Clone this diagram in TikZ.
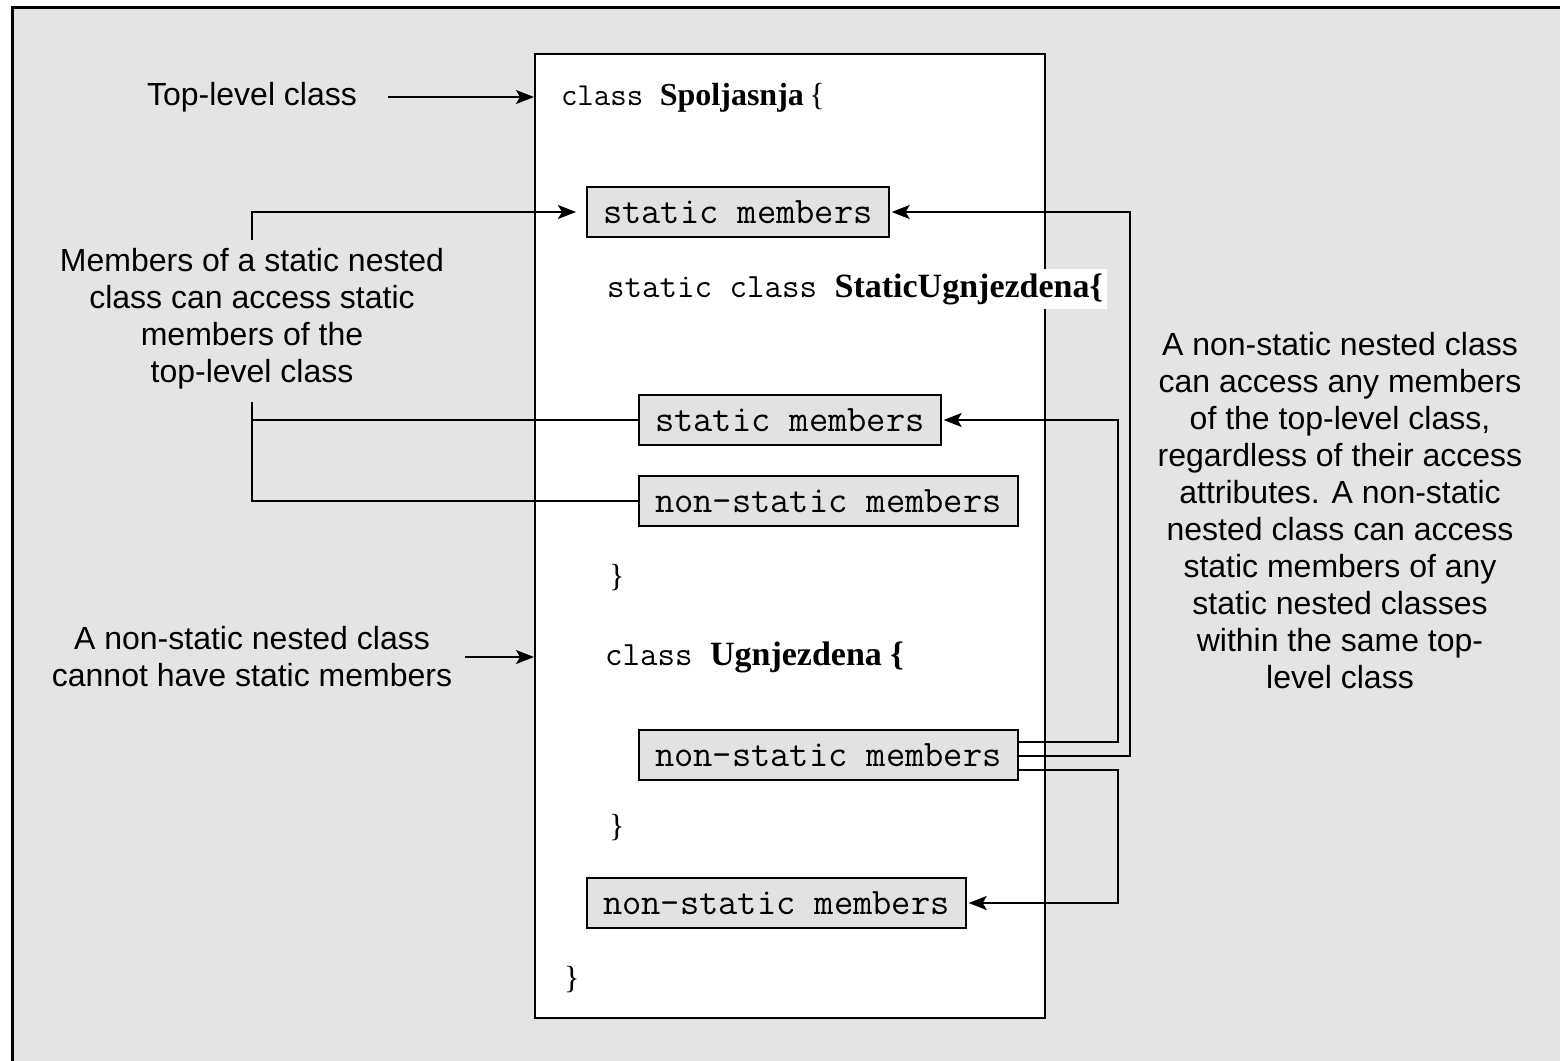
\documentclass[tikz,border=0pt]{standalone}
\usepackage{fontspec}
\setmainfont{Liberation Serif}
\setsansfont{Liberation Sans}
\usetikzlibrary{arrows.meta,calc}
\definecolor{panelgray}{HTML}{E4E4E4}
\definecolor{boxgray}{HTML}{E2E2E2}
\begin{document}
\begin{tikzpicture}[x=0.5pt, y=-0.5pt, line width=1pt,
    note/.style={font=\sffamily\fontsize{16}{18.5}\selectfont, align=center, inner sep=0pt},
    member/.style={draw, fill=boxgray, font=\ttfamily\fontsize{18.7}{20}\selectfont, inner xsep=8pt, inner ysep=0pt, minimum height=25pt, anchor=west},
    code/.style={font=\ttfamily\fontsize{17}{20}\selectfont, inner sep=0pt, anchor=west},
    arr/.style={-{Stealth[length=9pt,width=7pt,inset=2pt]}}]
    \useasboundingbox (0,0) rectangle (1560,1061);
    \fill[panelgray] (12,7) rectangle (1560,1061);
    \draw[line width=1.5pt] (12,1061) -- (12,7) -- (1560,7);

    \node(outer)[draw, fill=white, minimum width=255pt, minimum height=482pt, inner sep=0pt] at (790,536) {};

    % code lines
    \node(top)[code, font=\ttfamily\fontsize{16}{20}\selectfont] at (560,98) {class {\rmfamily\bfseries\fontsize{16}{20}\selectfont Spoljasnja}{\rmfamily\fontsize{16}{20}\selectfont\,\{}};
    \node(staticcls)[code, fill=white, inner sep=2pt] at (602,289) {static class {\rmfamily\bfseries\fontsize{17}{20}\selectfont StaticUgnjezdena\{}};
    \node(close1)[code, font=\rmfamily\fontsize{16}{20}\selectfont] at (608,578) {\}};
    \node(innercls)[code] at (604,657) {class {\rmfamily\bfseries\fontsize{17}{20}\selectfont Ugnjezdena \{}};
    \node(close2)[code, font=\rmfamily\fontsize{16}{20}\selectfont] at (608,828) {\}};
    \node(close3)[code, font=\rmfamily\fontsize{16}{20}\selectfont] at (563,980) {\}};

    % member boxes
    \node(sm1)[member] at (586,212) {static members};
    \node(sm2)[member] at (638,420) {static members};
    \node(ns3)[member] at (638,501) {non-static members};
    \node(ns4)[member] at (638,755) {non-static members};
    \node(ns5)[member] at (586,903) {non-static members};

    % notes
    \node(topcls)[note] at (252,97) {Top-level class};
    \node(memtxt)[note] at (252,319) {Members of a static nested\\class can access static\\members of the\\top-level class};
    \node(nonstat)[note] at (252,657) {A non-static nested class\\cannot have static members};
    \node(anytxt)[note] at (1340,511) {A non-static nested class\\can access any members\\of the top-level class,\\regardless of their access\\attributes. A non-static\\nested class can access\\static members of any\\static nested classes\\within the same top-\\level class};

    \coordinate(railA) at (1118,0);
    \coordinate(railB) at (1130,0);

    \draw[arr, shorten <=15pt] (topcls) -- (outer.west |- topcls);
    \draw[arr, shorten <=6pt] (nonstat) -- (outer.west |- nonstat);
    \draw[arr, shorten >=5pt] ([yshift=4pt]memtxt.north) |- (sm1.west);
    \draw ([yshift=-6pt]memtxt.south) |- (sm2.west);
    \draw ([yshift=-6pt]memtxt.south) |- (ns3.west);
    \draw[arr, shorten >=1pt] ([yshift=6.5pt]ns4.east) -| (railA |- sm2) -- (sm2.east);
    \draw[arr, shorten >=1pt] ([yshift=-0.5pt]ns4.east) -| (railB |- sm1) -- (sm1.east);
    \draw[arr, shorten >=1pt] ([yshift=-7.5pt]ns4.east) -| (railA |- ns5) -- (ns5.east);
\end{tikzpicture}
\end{document}
